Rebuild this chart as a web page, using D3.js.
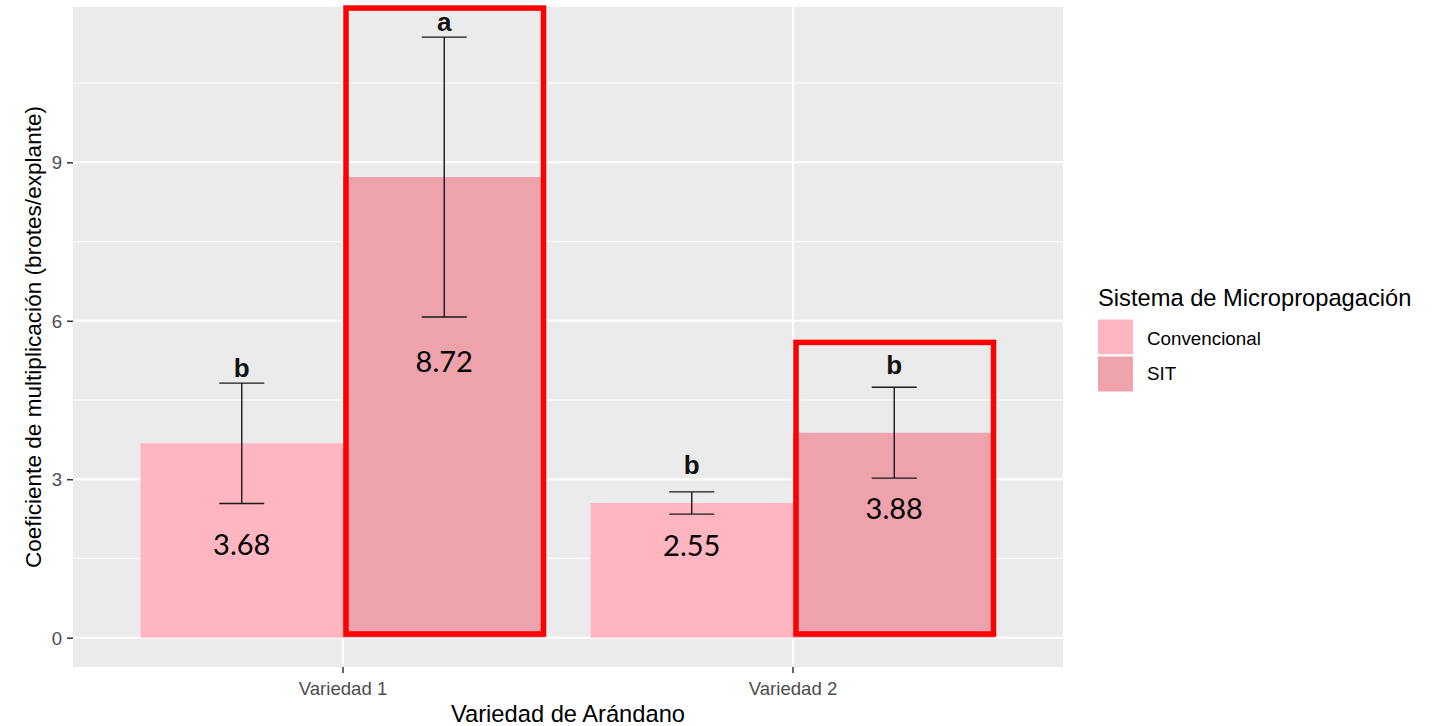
<!DOCTYPE html>
<html>
<head>
<meta charset="utf-8">
<script src="https://cdn.jsdelivr.net/npm/d3@7"></script>
<style>
  html, body { margin: 0; padding: 0; background: #ffffff; }
  svg { display: block; }
  text { font-family: "Liberation Sans", Arial, sans-serif; }
</style>
</head>
<body>
<svg id="chart" width="1442" height="726"></svg>
<script>
// ---- data ----
const categories = ["Variedad 1", "Variedad 2"];
const systems = ["Convencional", "SIT"];
const meanConvencional = [3.68, 2.55];
const meanSIT = [8.72, 3.88];
const seConvencional = [1.14, 0.21];
const seSIT = [2.65, 0.86];
const lettersConvencional = ["b", "b"];
const lettersSIT = ["a", "b"];
const yTicks = [0, 3, 6, 9];

// annotation anchors, in y-axis units
const letterAtConvencional = [4.93, 3.09];
const letterAtSIT = [11.49, 4.99];
const valueAtConvencional = [1.57, 1.55];
const valueAtSIT = [5.03, 2.25];
const highlightTop = [11.92, 5.59];
const highlightBottom = 0.07;

// ---- layout ----
const panel = { left: 73, right: 1063, top: 7, bottom: 667 };
const colors = { Convencional: "#FFB6C1", SIT: "#EDA2AC" };

const svg = d3.select("#chart");

const x = d3.scaleBand()
  .domain(categories)
  .range([panel.left, panel.right])
  .paddingInner(0)
  .paddingOuter(0.1);

const dodge = d3.scaleBand()
  .domain(systems)
  .range([-0.45 * x.step(), 0.45 * x.step()]);

const y = d3.scaleLinear()
  .domain([-0.555, 11.94])
  .range([panel.bottom, panel.top]);

const rows = [];
categories.forEach((c, i) => {
  rows.push({ cat: c, sys: "Convencional", mean: meanConvencional[i], se: seConvencional[i],
    letter: lettersConvencional[i], letterAt: letterAtConvencional[i], valueAt: valueAtConvencional[i] });
  rows.push({ cat: c, sys: "SIT", mean: meanSIT[i], se: seSIT[i],
    letter: lettersSIT[i], letterAt: letterAtSIT[i], valueAt: valueAtSIT[i], boxTop: highlightTop[i] });
});
const cx = d => x(d.cat) + x.bandwidth() / 2;
const barX0 = d => cx(d) + dodge(d.sys);
const barMid = d => barX0(d) + dodge.bandwidth() / 2;

// panel background
svg.append("rect")
  .attr("x", panel.left).attr("y", panel.top)
  .attr("width", panel.right - panel.left).attr("height", panel.bottom - panel.top)
  .attr("fill", "#EBEBEB");

// minor grid
const minor = d3.range(1.5, 12, 3);
svg.append("g").selectAll("line").data(minor).join("line")
  .attr("x1", panel.left).attr("x2", panel.right)
  .attr("y1", d => y(d)).attr("y2", d => y(d))
  .attr("stroke", "#ffffff").attr("stroke-width", 1);

// major grid
svg.append("g").selectAll("line").data(yTicks).join("line")
  .attr("x1", panel.left).attr("x2", panel.right)
  .attr("y1", d => y(d)).attr("y2", d => y(d))
  .attr("stroke", "#ffffff").attr("stroke-width", 2);
svg.append("g").selectAll("line").data(categories).join("line")
  .attr("x1", d => x(d) + x.bandwidth() / 2).attr("x2", d => x(d) + x.bandwidth() / 2)
  .attr("y1", panel.top).attr("y2", panel.bottom)
  .attr("stroke", "#ffffff").attr("stroke-width", 2);

// bars
svg.append("g").selectAll("rect").data(rows).join("rect")
  .attr("x", barX0)
  .attr("width", dodge.bandwidth())
  .attr("y", d => y(d.mean))
  .attr("height", d => y(0) - y(d.mean))
  .attr("fill", d => colors[d.sys]);

// error bars
const capHalf = 0.05 * x.step();
const eb = svg.append("g").attr("stroke", "#1a1a1a").attr("stroke-width", 1.4).attr("fill", "none");
rows.forEach(d => {
  const m = barMid(d), hi = y(d.mean + d.se), lo = y(d.mean - d.se);
  eb.append("line").attr("x1", m).attr("x2", m).attr("y1", hi).attr("y2", lo);
  eb.append("line").attr("x1", m - capHalf).attr("x2", m + capHalf).attr("y1", hi).attr("y2", hi);
  eb.append("line").attr("x1", m - capHalf).attr("x2", m + capHalf).attr("y1", lo).attr("y2", lo);
});

// significance letters
svg.append("g").selectAll("text").data(rows).join("text")
  .attr("x", barMid)
  .attr("y", d => y(d.letterAt))
  .attr("text-anchor", "middle")
  .attr("font-size", 26)
  .attr("font-weight", "bold")
  .attr("fill", "#111")
  .text(d => d.letter);

// mean value labels
svg.append("g").selectAll("text").data(rows).join("text")
  .attr("x", barMid)
  .attr("y", d => y(d.valueAt))
  .attr("text-anchor", "middle")
  .attr("font-size", 29)
  .style("font-family", "Lato, 'Open Sans', sans-serif")
  .attr("fill", "#000")
  .text(d => d.mean.toFixed(2));

// highlight boxes around the SIT bars
svg.append("g").selectAll("rect").data(rows.filter(d => d.sys === "SIT")).join("rect")
  .attr("x", d => barX0(d) + 3)
  .attr("width", dodge.bandwidth() - 5)
  .attr("y", d => y(d.boxTop))
  .attr("height", d => y(highlightBottom) - y(d.boxTop))
  .attr("fill", "none")
  .attr("stroke", "#FF0000")
  .attr("stroke-width", 5.5);

// axes
const yAxis = svg.append("g")
  .attr("transform", `translate(${panel.left},0)`)
  .call(d3.axisLeft(y).tickValues(yTicks).tickSize(6).tickPadding(5).tickFormat(d3.format("d")));
const xAxis = svg.append("g")
  .attr("transform", `translate(0,${panel.bottom})`)
  .call(d3.axisBottom(x).tickSize(6).tickPadding(4));
[yAxis, xAxis].forEach(a => {
  a.select(".domain").remove();
  a.selectAll(".tick line").attr("stroke", "#333333").attr("stroke-width", 1.5);
  a.selectAll(".tick text").attr("fill", "#4D4D4D").attr("font-size", 18.6)
    .style("font-family", "'Liberation Sans', Arial, sans-serif");
});
xAxis.selectAll(".tick text").attr("dy", null).attr("y", 28);
yAxis.selectAll(".tick text").attr("dy", "0.36em");

// axis titles
svg.append("text")
  .attr("x", (panel.left + panel.right) / 2)
  .attr("y", 722)
  .attr("text-anchor", "middle")
  .attr("font-size", 23.7)
  .attr("fill", "#000")
  .text("Variedad de Arándano");
svg.append("text")
  .attr("transform", `translate(41,${(panel.top + panel.bottom) / 2}) rotate(-90)`)
  .attr("text-anchor", "middle")
  .attr("font-size", 22.6)
  .attr("fill", "#000")
  .text("Coeficiente de multiplicación (brotes/explante)");

// legend
const legend = svg.append("g");
legend.append("text")
  .attr("x", 1098).attr("y", 306)
  .attr("font-size", 23.7).attr("fill", "#000")
  .text("Sistema de Micropropagación");
const keySize = 37;
systems.forEach((s, i) => {
  legend.append("rect")
    .attr("x", 1097).attr("y", 318.5 + i * keySize)
    .attr("width", keySize).attr("height", keySize)
    .attr("fill", colors[s]).attr("stroke", "#ffffff").attr("stroke-width", 2);
  legend.append("text")
    .attr("x", 1147).attr("y", 345 + i * 35)
    .attr("font-size", 18.8).attr("fill", "#000")
    .text(s);
});
</script>
</body>
</html>
